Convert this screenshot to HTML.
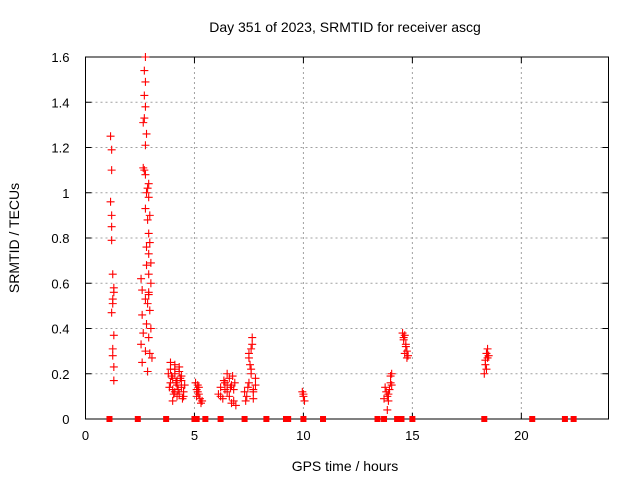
<!DOCTYPE html>
<html><head><meta charset="utf-8"><style>
body{margin:0;background:#fff;}
svg{display:block;font-family:"Liberation Sans",sans-serif;}
</style></head><body>
<svg id="chart" width="640" height="480" viewBox="0 0 640 480">
<rect width="640" height="480" fill="#fff"/>
<g id="grid"></g>
<g id="axes"></g>
<g id="marks"></g>
<text x="345" y="32" font-size="14" text-anchor="middle">Day 351 of 2023, SRMTID for receiver ascg</text>
<text x="345" y="471" font-size="14" text-anchor="middle">GPS time / hours</text>
<text x="19" y="238" font-size="14" text-anchor="middle" transform="rotate(-90 19 238)">SRMTID / TECUs</text>
</svg>
<script>
const xTicks=[0,5,10,15,20];
const yTicks=[0,0.2,0.4,0.6,0.8,1,1.2,1.4,1.6];
const yTickLabels=["0","0.2","0.4","0.6","0.8","1","1.2","1.4","1.6"];
const times=[1.15,1.2,1.2,1.15,1.2,1.2,1.2,1.25,1.3,1.3,1.25,1.25,1.2,1.3,1.25,1.25,1.3,1.3,
2.75,2.7,2.75,2.7,2.75,2.7,2.65,2.8,2.75,2.65,2.7,2.75,2.9,2.85,2.8,2.9,2.75,2.95,2.85,2.9,2.95,2.8,2.9,3.0,2.55,2.9,3.0,2.6,2.9,2.75,2.85,2.95,2.6,2.8,3.0,2.65,2.9,2.55,2.75,3.05,2.6,2.85,2.95,2.8,2.9,
3.8,3.9,4.0,4.1,4.2,4.3,4.4,4.5,3.85,3.95,4.05,4.15,4.25,4.35,4.45,4.55,3.9,4.0,4.1,4.2,4.3,4.4,4.0,4.2,4.3,3.9,4.1,4.4,4.5,4.1,
5.05,5.1,5.15,5.2,5.25,5.3,5.1,5.2,5.35,5.15,
6.1,6.2,6.3,6.4,6.5,6.6,6.7,6.8,6.2,6.35,6.5,6.65,6.8,6.9,6.4,6.6,6.7,6.85,6.75,6.5,
7.3,7.4,7.5,7.6,7.7,7.8,7.5,7.6,7.65,7.55,7.7,7.45,7.6,7.8,7.35,7.65,7.5,7.7,
9.95,10.0,10.05,10.0,
13.75,13.8,13.85,13.9,13.95,14.0,14.05,13.85,13.9,14.0,14.05,13.7,
14.55,14.6,14.65,14.7,14.75,14.8,14.6,14.7,14.65,14.75,
18.3,18.35,18.4,18.45,18.5,18.35,18.4,18.45];
const values=[1.25,1.19,1.10,0.96,0.90,0.85,0.79,0.64,0.58,0.56,0.53,0.51,0.47,0.37,0.31,0.28,0.23,0.17,
1.60,1.54,1.49,1.43,1.38,1.33,1.31,1.26,1.21,1.11,1.10,1.08,1.04,1.02,1.00,0.98,0.93,0.90,0.88,0.82,0.78,0.76,0.73,0.69,0.62,0.64,0.60,0.57,0.56,0.53,0.51,0.48,0.46,0.42,0.40,0.38,0.36,0.33,0.30,0.27,0.25,0.21,0.29,0.68,0.55,
0.20,0.22,0.18,0.24,0.15,0.21,0.17,0.12,0.14,0.19,0.11,0.16,0.13,0.18,0.09,0.15,0.25,0.13,0.20,0.10,0.23,0.14,0.08,0.17,0.11,0.16,0.12,0.19,0.10,0.22,
0.16,0.13,0.15,0.11,0.09,0.07,0.10,0.14,0.08,0.12,
0.11,0.14,0.09,0.16,0.12,0.18,0.15,0.13,0.10,0.17,0.20,0.14,0.08,0.06,0.13,0.10,0.07,0.16,0.19,0.15,
0.12,0.10,0.16,0.22,0.13,0.18,0.27,0.31,0.36,0.24,0.09,0.14,0.20,0.15,0.08,0.33,0.29,0.12,
0.12,0.10,0.08,0.11,
0.14,0.12,0.10,0.08,0.13,0.19,0.20,0.04,0.11,0.16,0.15,0.09,
0.38,0.36,0.37,0.33,0.30,0.28,0.35,0.32,0.29,0.27,
0.20,0.24,0.29,0.31,0.28,0.26,0.22,0.27];
const zeroTimes=[1.1,2.4,3.7,5.0,5.1,5.5,6.2,7.3,8.3,9.2,9.3,10.0,10.9,13.4,13.7,14.3,14.5,15.0,18.3,20.5,22.0,22.4];
const X0=85.5,X1=608.5,Y0=419,Y1=57;
const xs=t=>X0+t/24*(X1-X0);
const ys=v=>Y0-v/1.6*(Y0-Y1);
const NS="http://www.w3.org/2000/svg";
function mk(tag,attrs,parent){const e=document.createElementNS(NS,tag);for(const k in attrs)e.setAttribute(k,attrs[k]);parent.appendChild(e);return e;}
const grid=document.getElementById('grid'),axes=document.getElementById('axes'),marks=document.getElementById('marks');
mk('rect',{x:X0,y:Y1,width:X1-X0,height:Y0-Y1,fill:'none',stroke:'#000','stroke-width':1},axes);
xTicks.forEach(t=>{const x=xs(t);
 if(t>0){const g=mk('line',{x1:x,x2:x,y1:Y1,y2:Y0,stroke:'#a0a0a0','stroke-dasharray':'2,3'},grid);}
 mk('line',{x1:x,x2:x,y1:Y0,y2:Y0-6,stroke:'#000'},axes);mk('line',{x1:x,x2:x,y1:Y1,y2:Y1+6,stroke:'#000'},axes);
 const tx=mk('text',{x:x,y:Y0+21,'font-size':13,'text-anchor':'middle'},axes);tx.textContent=t;
 });
yTicks.forEach((v,i)=>{const y=ys(v);
 if(v>0&&v<1.6){const g=mk('line',{x1:X0,x2:X1,y1:y,y2:y,stroke:'#a0a0a0','stroke-dasharray':'2,3'},grid);}
 mk('line',{x1:X0,x2:X0+6,y1:y,y2:y,stroke:'#000'},axes);mk('line',{x1:X1,x2:X1-6,y1:y,y2:y,stroke:'#000'},axes);
 const tx=mk('text',{x:X0-16,y:y+5,'font-size':13,'text-anchor':'end'},axes);tx.textContent=yTickLabels[i];
 });
times.forEach((t,i)=>{const x=xs(t),y=ys(values[i]);
 const p=mk('path',{d:`M${x-4},${y}h8M${x},${y-4}v8`,stroke:'#f00','stroke-width':1.1,fill:'none'},marks);
 
 });
zeroTimes.forEach(t=>{const r=mk('rect',{x:xs(t)-3,y:Y0-3,width:6,height:6,fill:'#f00'},marks);
 
 });
</script>
</body></html>
